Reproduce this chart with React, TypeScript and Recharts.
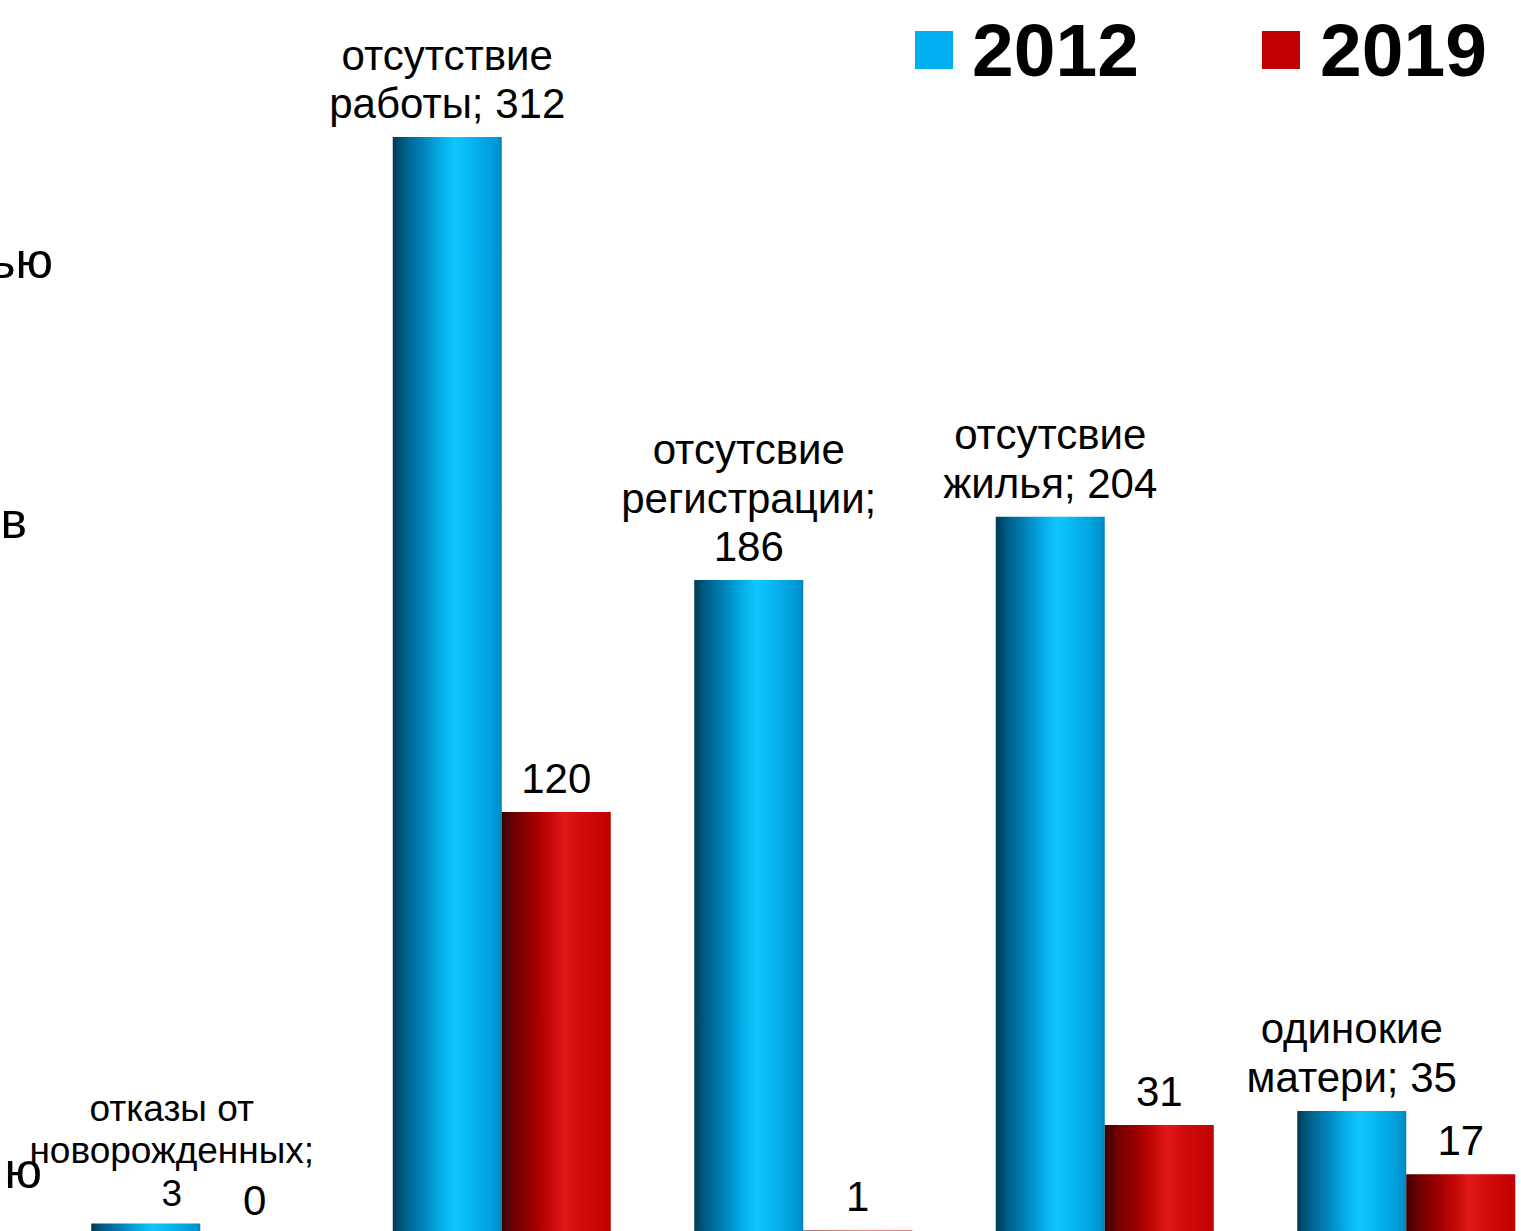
import { BarChart, Bar, XAxis, YAxis, LabelList } from 'recharts'

const categories = [
  'отказы от новорожденных',
  'отсутствие работы',
  'отсутсвие регистрации',
  'отсутсвие жилья',
  'одинокие матери',
]
const values2012 = [3, 312, 186, 204, 35]
const values2019 = [0, 120, 1, 31, 17]
const seriesNames = ['2012', '2019']
const seriesColors = ['#00b0f0', '#c00000']

// tails of the labels belonging to a category cut off at the left edge
const cutTails = ['ью', 'в', 'ю']
const cutTailPos = [
  { x: 53, y: 278 },
  { x: 27, y: 538 },
  { x: 42, y: 1188 },
]

const data = categories.map((name, i) => ({
  name,
  y2012: values2012[i],
  y2019: values2019[i],
}))

const FONT = '"Liberation Sans", Arial, sans-serif'

let ctx: CanvasRenderingContext2D | null = null
function measure(text: string, size: number) {
  if (!ctx) ctx = document.createElement('canvas').getContext('2d')
  if (!ctx) return text.length * size * 0.56
  ctx.font = `${size}px ${FONT}`
  return ctx.measureText(text).width
}

function wrap(text: string, size: number, max: number) {
  const words = text.split(' ')
  const lines: string[] = []
  let cur = ''
  for (const w of words) {
    const t = cur ? cur + ' ' + w : w
    if (cur && measure(t, size) > max) {
      lines.push(cur)
      cur = w
    } else cur = t
  }
  if (cur) lines.push(cur)
  return lines
}

const CategoryLabel = (props: any) => {
  const { x, y, width, value } = props
  const i = props.index ?? values2012.indexOf(Number(value))
  const small = i === 0
  const size = small ? 37 : 42
  const lh = small ? 42.5 : 48.5
  const cx = Number(x) + Number(width) / 2 + (small ? 26 : 0)
  const base = Number(y) - (small ? 17.7 : 19)
  const lines = wrap(`${categories[i]}; ${value}`, size, 300)
  return (
    <text textAnchor="middle" fontSize={size} fontFamily={FONT} fill="#000">
      {lines.map((l, k) => (
        <tspan key={k} x={cx} y={base - (lines.length - 1 - k) * lh}>
          {l}
        </tspan>
      ))}
    </text>
  )
}

const ValueLabel = (props: any) => {
  const { x, y, width, value } = props
  return (
    <text
      x={Number(x) + Number(width) / 2}
      y={Number(y) - 19}
      textAnchor="middle"
      fontSize={42}
      fontFamily={FONT}
      fill="#000"
    >
      {String(value)}
    </text>
  )
}

const YearLegend = () => {
  const items = [
    { x: 915, textX: 972 },
    { x: 1262, textX: 1320 },
  ]
  return (
    <g>
      {items.map((it, i) => (
        <g key={seriesNames[i]}>
          <rect x={it.x} y={31} width={38} height={38} fill={seriesColors[i]} />
          <text x={it.textX} y={76} fontSize={75} fontWeight="bold" fontFamily={FONT} fill="#000">
            {seriesNames[i]}
          </text>
        </g>
      ))}
    </g>
  )
}

export default function App() {
  return (
    <div
      style={{
        position: 'absolute',
        left: 0,
        top: 0,
        width: 1521,
        height: 1231,
        overflow: 'hidden',
        background: '#fff',
        fontFamily: FONT,
      }}
    >
      <BarChart
        width={1600}
        height={1240}
        data={data}
        margin={{ top: 3.4, right: 43.25, left: 49.25, bottom: 6 }}
        barGap={0}
        barSize={109}
      >
        <defs>
          <linearGradient id="blueCyl" x1="0" y1="0" x2="1" y2="0">
            <stop offset="0%" stopColor="#003a55" />
            <stop offset="10%" stopColor="#005c85" />
            <stop offset="28%" stopColor="#0084bc" />
            <stop offset="45%" stopColor="#06b0ea" />
            <stop offset="57%" stopColor="#10c6ff" />
            <stop offset="70%" stopColor="#08b8f4" />
            <stop offset="88%" stopColor="#00a2de" />
            <stop offset="97%" stopColor="#0092cf" />
            <stop offset="100%" stopColor="#0080b8" />
          </linearGradient>
          <linearGradient id="redCyl" x1="0" y1="0" x2="1" y2="0">
            <stop offset="0%" stopColor="#3e0000" />
            <stop offset="12%" stopColor="#700000" />
            <stop offset="30%" stopColor="#a00000" />
            <stop offset="45%" stopColor="#c40808" />
            <stop offset="57%" stopColor="#e01818" />
            <stop offset="72%" stopColor="#d20c0c" />
            <stop offset="100%" stopColor="#c00000" />
          </linearGradient>
        </defs>
        <XAxis dataKey="name" hide padding={{ left: 0, right: 0 }} />
        <YAxis hide domain={[0, 350]} allowDataOverflow />
        <Bar dataKey="y2012" name={seriesNames[0]} fill="url(#blueCyl)" isAnimationActive={false}>
          <LabelList dataKey="y2012" content={<CategoryLabel />} />
        </Bar>
        <Bar
          dataKey="y2019"
          name={seriesNames[1]}
          fill="url(#redCyl)"
          minPointSize={0.01}
          isAnimationActive={false}
        >
          <LabelList dataKey="y2019" content={<ValueLabel />} />
        </Bar>
      </BarChart>
      <svg
        width={1521}
        height={1231}
        style={{ position: 'absolute', left: 0, top: 0, pointerEvents: 'none' }}
      >
        <YearLegend />
        {cutTails.map((t, i) => (
          <text
            key={i}
            x={cutTailPos[i].x}
            y={cutTailPos[i].y}
            textAnchor="end"
            fontSize={50}
            fontFamily={FONT}
            fill="#000"
          >
            {t}
          </text>
        ))}
      </svg>
    </div>
  )
}
